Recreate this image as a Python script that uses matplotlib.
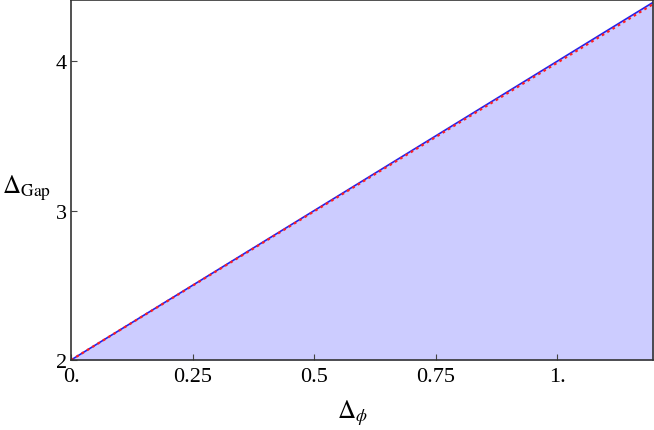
import numpy as np
import matplotlib.pyplot as plt

plt.rcParams['font.family'] = ['Liberation Serif', 'DejaVu Serif']
plt.rcParams['mathtext.fontset'] = 'stix'

# bound on the gap vs external dimension
delta_phi = [0.0, 0.3, 0.6, 0.9, 1.2]
gap_bound = [2.0, 2.6, 3.2, 3.8, 4.4]
gap_free = [2.0, 2.597, 3.194, 3.791, 4.388]

x_ticks = [0, 0.25, 0.5, 0.75, 1.0]
x_ticklabels = ['0.', '0.25', '0.5', '0.75', '1.']
y_ticks = [2, 3, 4]
y_ticklabels = ['2', '3', '4']

fig = plt.figure(figsize=(6.54, 4.31), dpi=100)
ax = fig.add_axes([0.1086, 0.1624, 0.8899, 0.8353])

ax.fill_between(delta_phi, 2.0, gap_bound, color='#ccccff', lw=0)
ax.plot(delta_phi, gap_bound, color='#2222ee', lw=1.2)
ax.plot(delta_phi, gap_free, color='#ff2020', lw=1.6, ls=(0, (1.2, 1.6)))

ax.set_xlim(0, 1.197)
ax.set_ylim(2, 4.41)
ax.set_xticks(x_ticks)
ax.set_xticklabels(x_ticklabels)
ax.set_yticks(y_ticks)
ax.set_yticklabels(y_ticklabels)
ax.tick_params(direction='in', length=4, width=0.8, labelsize=16, color='#444444', pad=3)
ax.tick_params(axis='x', pad=5)
for s in ax.spines.values():
    s.set_color('#333333')
    s.set_linewidth(1.2)

ax.set_xlabel(r'$\Delta_\phi$', fontsize=18, va='center')
ax.xaxis.set_label_coords(0.483, -0.145)
ax.set_ylabel(r'$\Delta_{\mathrm{Gap}}$', fontsize=18, rotation=0, ha='center', va='center')
ax.yaxis.set_label_coords(-0.077, 0.48)

fig.savefig('out.png', dpi=100)
